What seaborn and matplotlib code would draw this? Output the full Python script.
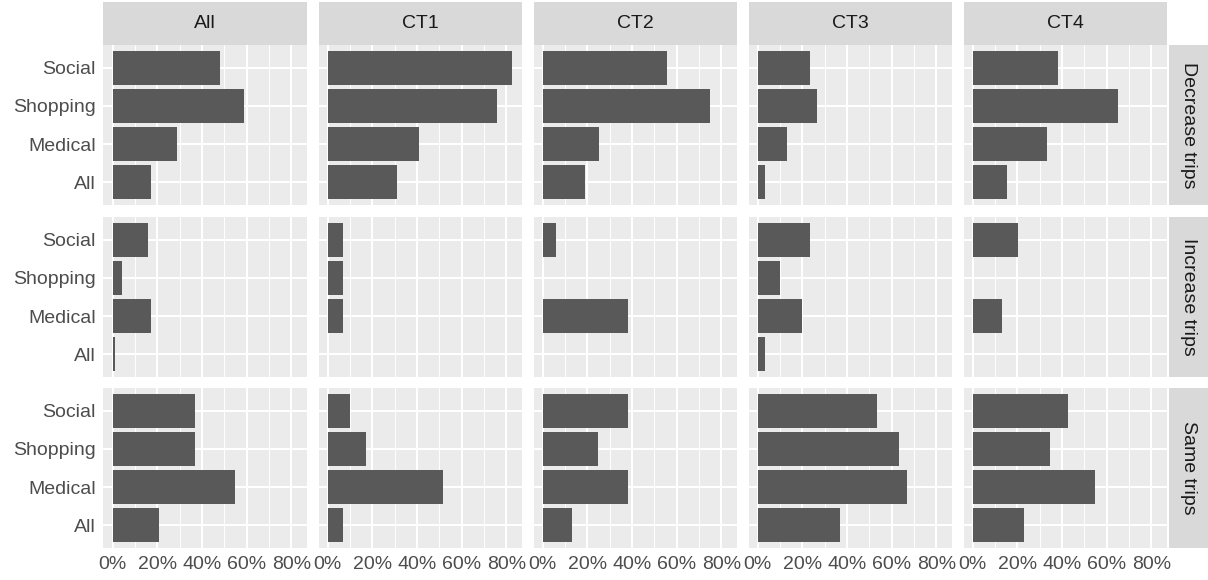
import numpy as np
import pandas as pd
import matplotlib
matplotlib.use("Agg")
import matplotlib.pyplot as plt
from matplotlib.patches import Rectangle
from matplotlib.ticker import FixedLocator
import seaborn as sns

# ---------------- data ----------------
groups = ["All", "CT1", "CT2", "CT3", "CT4"]
changes = ["Decrease trips", "Increase trips", "Same trips"]
purposes = ["Social", "Shopping", "Medical", "All"]

# percent values, per group (All, CT1..CT4), per purpose (Social, Shopping, Medical, All)
decrease_trips = [
    [48.0, 59.0, 29.0, 17.0],
    [82.7, 75.8, 40.9, 31.0],
    [55.8, 74.9, 25.1, 19.1],
    [23.3, 26.7, 13.3, 3.3],
    [38.2, 64.9, 33.1, 15.2],
]
increase_trips = [
    [16.0, 4.2, 17.0, 1.0],
    [7.0, 7.0, 7.0, 0.0],
    [6.1, 0.0, 38.1, 0.0],
    [23.3, 10.0, 20.0, 3.3],
    [20.1, 0.0, 13.3, 0.0],
]
same_trips = [
    [36.9, 36.9, 54.9, 20.9],
    [10.0, 17.1, 51.6, 6.9],
    [38.2, 24.7, 38.2, 13.1],
    [53.3, 63.3, 66.7, 36.7],
    [42.6, 34.6, 54.8, 23.0],
]
x_ticks = [0, 20, 40, 60, 80]
x_tick_labels = ["0%", "20%", "40%", "60%", "80%"]

rows = []
for change, block in zip(changes, [decrease_trips, increase_trips, same_trips]):
    for g, vals in zip(groups, block):
        for p, v in zip(purposes, vals):
            rows.append({"change": change, "group": g, "purpose": p, "pct": v})
df = pd.DataFrame(rows)

# ---------------- style ----------------
sns.set_style("white")
plt.rcParams["font.family"] = ["Liberation Sans", "DejaVu Sans"]

W, H = 1208, 580
fig = plt.figure(figsize=(W / 100, H / 100), dpi=100)

def fig_rect(left, top, width, height):
    return [left / W, 1 - (top + height) / H, width / W, height / H]

col_lefts = [103.5, 318.5, 533.5, 748.5, 963.5]
panel_w = 203
row_tops = [45, 217, 388]
panel_h = 160

M = df["pct"].max()
xlim = (-0.05 * M, 1.05 * M)

bar_color = "#595959"
tick_col = "#333333"
label_col = "#4D4D4D"
strip_bg = "#D9D9D9"
strip_txt = "#1A1A1A"
fs = 14

for ri, change in enumerate(changes):
    for ci, g in enumerate(groups):
        ax = fig.add_axes(fig_rect(col_lefts[ci], row_tops[ri], panel_w, panel_h))
        sub = df[(df["change"] == change) & (df["group"] == g)]
        sns.barplot(data=sub, x="pct", y="purpose", order=purposes, orient="h",
                    color=bar_color, saturation=1, width=0.9, errorbar=None,
                    edgecolor="none", linewidth=0, ax=ax)
        ax.set_facecolor("#EBEBEB")
        for s in ax.spines.values():
            s.set_visible(False)
        ax.set_xlim(*xlim)
        ax.set_ylim(len(purposes) - 0.4, -0.6)
        ax.set_xlabel("")
        ax.set_ylabel("")
        ax.xaxis.set_major_locator(FixedLocator(x_ticks))
        ax.xaxis.set_minor_locator(FixedLocator([10, 30, 50, 70]))
        ax.set_axisbelow(True)
        ax.grid(which="major", axis="both", color="white", linewidth=1.45)
        ax.grid(which="minor", axis="x", color="white", linewidth=0.7)
        ax.tick_params(which="minor", length=0)
        ax.tick_params(which="major", color=tick_col, width=1.0, length=3.2,
                       labelcolor=label_col, labelsize=fs, pad=2.5)
        if ri == len(changes) - 1:
            ax.set_xticks(x_ticks)
            ax.set_xticklabels(x_tick_labels)
        else:
            ax.tick_params(axis="x", which="major", length=0, labelbottom=False)
        if ci == 0:
            ax.set_yticks(range(len(purposes)))
            ax.set_yticklabels(purposes)
        else:
            ax.tick_params(axis="y", which="major", length=0, labelleft=False)

        # top strips
        if ri == 0:
            top_h = 43
            fig.patches.append(Rectangle((col_lefts[ci] / W, 1 - row_tops[0] / H),
                                         panel_w / W, top_h / H,
                                         transform=fig.transFigure,
                                         facecolor=strip_bg, edgecolor="none"))
            fig.text((col_lefts[ci] + panel_w / 2) / W,
                     1 - (row_tops[0] - top_h / 2) / H, g,
                     ha="center", va="center", fontsize=fs, color=strip_txt)
    # right strips
    sx = col_lefts[-1] + panel_w + 2
    sw = W - sx
    fig.patches.append(Rectangle((sx / W, 1 - (row_tops[ri] + panel_h) / H),
                                 sw / W, panel_h / H, transform=fig.transFigure,
                                 facecolor=strip_bg, edgecolor="none"))
    fig.text((sx + sw / 2) / W, 1 - (row_tops[ri] + panel_h / 2) / H, change,
             ha="center", va="center", rotation=-90, fontsize=fs, color=strip_txt)

fig.savefig("out.png", dpi=100, facecolor="white")
